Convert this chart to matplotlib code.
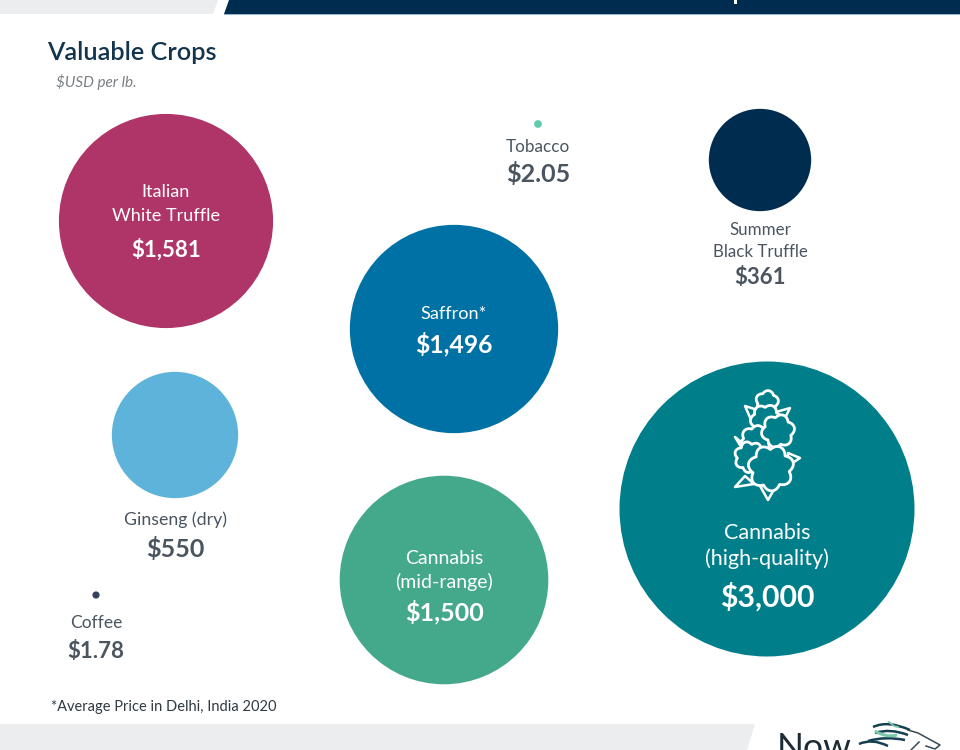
import numpy as np
import matplotlib
matplotlib.use('Agg')
import matplotlib.pyplot as plt
from matplotlib.patches import Circle, Polygon, PathPatch, Rectangle
from matplotlib.path import Path

plt.rcParams['font.family'] = ['Lato', 'DejaVu Sans']

# crop names and prices, $USD per lb.
crops = ['Italian\nWhite Truffle', 'Tobacco', 'Summer\nBlack Truffle', 'Saffron*',
         'Ginseng (dry)', 'Cannabis\n(mid-range)', 'Cannabis\n(high-quality)', 'Coffee']
prices = [1581, 2.05, 361, 1496, 550, 1500, 3000, 1.78]
price_labels = ['$1,581', '$2.05', '$361', '$1,496', '$550', '$1,500', '$3,000', '$1.78']

# layout, in pixels of the original picture
centers_x = [166, 538, 760, 454, 175, 444, 767, 96]
centers_y = [221, 124, 160, 329, 435, 580, 509, 595]
colors = ['#AF3468', '#5FCBAA', '#002D4F', '#0071A4', '#5DB3D9', '#44A98A', '#007F8B', '#33445A']
label_y = [[192, 216], [147], [230, 252], [314], [520], [558, 582], [533, 559], [623]]
value_y = [250, 174, 278, 344, 549, 612, 597, 652]
label_sizes = [13.1, 12.3, 12.2, 13.1, 12.8, 14.0, 15.5, 12.5]
value_sizes = [16.0, 18.0, 16.0, 17.8, 18.0, 18.0, 21.8, 16.0]
inside = [True, False, False, True, False, True, True, False]

NAVY = '#002D4F'
GREY_BAND = '#EBEDEE'
LABEL_DARK = '#4A5560'
TEAL = colors[6]
RADIUS_PER_ROOT = 147.5 / np.sqrt(3000)  # bubble area goes with price


def scallop(ax, cx, cy, r, lobes, phase=0.0):
    t = np.linspace(0, 2 * np.pi, 240)
    rad = r * (0.84 + 0.2 * np.abs(np.cos(lobes * t / 2 + phase)))
    ax.fill(cx + rad * np.cos(t), cy + rad * np.sin(t), facecolor=TEAL,
            edgecolor='white', lw=2.0, zorder=4, joinstyle='round')


def leaf(ax, p0, tip, p1):
    ax.add_patch(Polygon([p0, tip, p1], closed=True, facecolor=TEAL, edgecolor='white',
                         lw=1.8, zorder=3, joinstyle='round'))


def draw_bud(ax):
    # leaves first so that the lobes sit on top of them
    leaf(ax, (752, 422), (745, 406), (764, 412))
    leaf(ax, (776, 412), (790, 408), (782, 424))
    leaf(ax, (746, 446), (735, 437), (748, 458))
    leaf(ax, (788, 453), (800, 458), (788, 466))
    leaf(ax, (745, 476), (735, 487), (754, 484))
    leaf(ax, (760, 486), (768, 500), (776, 486))
    scallop(ax, 767, 402, 11, 5, 0.4)
    scallop(ax, 766, 420, 15, 6, 0.2)
    scallop(ax, 756, 441, 15, 6, 1.0)
    scallop(ax, 778, 431, 16, 6, 0.6)
    scallop(ax, 750, 457, 15, 7, 0.3)
    scallop(ax, 771, 468, 22, 7, 0.9)


def draw_logo(ax):
    # the logo runs off the bottom edge in the reference too
    ax.text(777, 758, 'Now', fontsize=25.5, color='#1C2B36', ha='left', va='baseline', zorder=5)
    mane = [[(873, 727), (888, 720), (910, 730)],
            [(875, 733), (890, 728), (908, 735)],
            [(868, 741), (885, 736), (905, 740)],
            [(859, 744), (872, 738), (888, 746)]]
    for pts in mane:
        ax.add_patch(PathPatch(Path(pts, [Path.MOVETO, Path.CURVE3, Path.CURVE3]),
                               fill=False, edgecolor='#14404F', lw=1.8, zorder=5))
    ax.add_patch(PathPatch(Path([(875, 731), (886, 738), (897, 735)],
                                [Path.MOVETO, Path.CURVE3, Path.CURVE3]),
                           fill=False, edgecolor='#7CC7AE', lw=2.2, zorder=5))
    ax.plot([908, 918, 940, 935, 926], [730, 733, 745, 749, 746], color='#3A4A55', lw=1.1, zorder=5)
    ax.plot([911, 919], [750, 742], color='#3A4A55', lw=1.1, zorder=5)
    ax.plot([889, 894, 898], [722, 726, 727], color='#7CC7AE', lw=1.3, zorder=5)


fig = plt.figure(figsize=(9.6, 7.5), dpi=100)
ax = fig.add_axes([0, 0, 1, 1])
ax.set_xlim(0, 960)
ax.set_ylim(750, 0)
ax.axis('off')

# bands at top and bottom
ax.add_patch(Polygon([(0, 0), (218, 0), (213, 14), (0, 14)], facecolor=GREY_BAND, edgecolor='none'))
ax.add_patch(Polygon([(229, 0), (960, 0), (960, 14), (224, 14)], facecolor=NAVY, edgecolor='none'))
ax.add_patch(Rectangle((224, 13.5), 736, 1.2, facecolor='#8DB8CF', edgecolor='none'))
ax.add_patch(Rectangle((734, 0), 2.6, 4, facecolor='white', edgecolor='none'))
ax.add_patch(Polygon([(0, 724), (755, 724), (747, 750), (0, 750)], facecolor=GREY_BAND, edgecolor='none'))

ax.text(47, 53, 'Valuable Crops', fontsize=18.2, color='#12344D', ha='left', va='center', fontweight='semibold')
ax.text(56, 82, '$USD per lb.', fontsize=11, color='#7A8085', ha='left', va='center', style='italic')
ax.text(51, 707, '*Average Price in Delhi, India 2020', fontsize=10.5, color='#2F3A42', ha='left', va='center')

for i, crop in enumerate(crops):
    r = RADIUS_PER_ROOT * np.sqrt(prices[i])
    ax.add_patch(Circle((centers_x[i], centers_y[i]), r, facecolor=colors[i], edgecolor='none', zorder=2))
    txt_color = 'white' if inside[i] else LABEL_DARK
    for line, y in zip(crop.split('\n'), label_y[i]):
        ax.text(centers_x[i], y, line, fontsize=label_sizes[i], color=txt_color, ha='center', va='center', zorder=5)
    ax.text(centers_x[i], value_y[i], price_labels[i], fontsize=value_sizes[i], color=txt_color,
            ha='center', va='center', fontweight='bold', zorder=5)

draw_bud(ax)
draw_logo(ax)

fig.savefig('out.png', dpi=100, facecolor='white')
